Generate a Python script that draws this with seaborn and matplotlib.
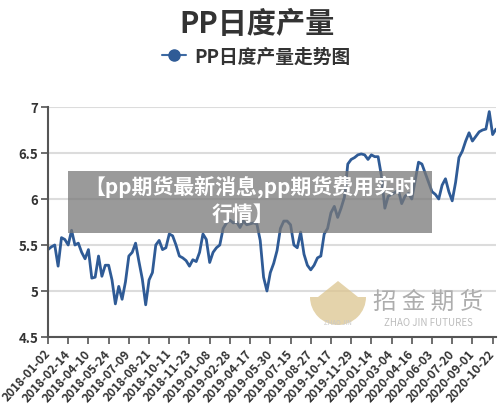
import matplotlib
matplotlib.use("Agg")
import matplotlib.pyplot as plt
import seaborn as sns
import pandas as pd
import numpy as np
from matplotlib.lines import Line2D
from matplotlib.patches import Rectangle, Wedge, Polygon

# ---- data (one point per 5 trading days) ----
pp_output = [
    5.45, 5.48, 5.50, 5.27, 5.58, 5.56, 5.50, 5.66, 5.50, 5.52,
    5.42, 5.35, 5.45, 5.14, 5.15, 5.38, 5.16, 5.28, 5.28, 5.12,
    4.86, 5.05, 4.91, 5.10, 5.38, 5.42, 5.52, 5.32, 5.13, 4.85,
    5.12, 5.20, 5.50, 5.55, 5.45, 5.47, 5.62, 5.60, 5.50, 5.38,
    5.36, 5.33, 5.27, 5.34, 5.32, 5.42, 5.62, 5.56, 5.31, 5.42,
    5.47, 5.50, 5.68, 5.74, 5.77, 5.74, 5.75, 5.69, 5.76, 5.72,
    5.73, 5.74, 5.73, 5.55, 5.15, 5.00, 5.20, 5.30, 5.44, 5.68,
    5.76, 5.76, 5.72, 5.50, 5.47, 5.64, 5.40, 5.28, 5.23, 5.28,
    5.36, 5.38, 5.62, 5.68, 5.85, 5.92, 5.80, 5.90, 6.02, 6.38,
    6.43, 6.45, 6.48, 6.49, 6.48, 6.43, 6.48, 6.46, 6.46, 6.25,
    5.90, 6.03, 6.05, 6.07, 6.10, 5.95, 6.03, 6.06, 6.00, 6.20,
    6.40, 6.38, 6.28, 6.18, 6.08, 6.05, 6.00, 6.15, 6.22, 6.08,
    5.98, 6.18, 6.45, 6.52, 6.63, 6.72, 6.63, 6.68, 6.73, 6.75,
    6.76, 6.95, 6.70, 6.76,
]
tick_labels = [
    "2018-01-02", "2018-02-14", "2018-04-10", "2018-05-24", "2018-07-09",
    "2018-08-21", "2018-10-11", "2018-11-23", "2019-01-08", "2019-02-28",
    "2019-04-17", "2019-05-30", "2019-07-15", "2019-08-27", "2019-10-17",
    "2019-11-29", "2020-01-14", "2020-03-04", "2020-04-16", "2020-06-03",
    "2020-07-20", "2020-09-01", "2020-10-22",
]
y_ticks = [4.5, 5, 5.5, 6, 6.5, 7]
y_tick_labels = ["4.5", "5", "5.5", "6", "6.5", "7"]
title = "PP日度产量"
series_name = "PP日度产量走势图"
banner_lines = ["【pp期货最新消息,pp期货费用实时", "行情】"]

sns.set_theme(style="white")
plt.rcParams["font.family"] = ["Noto Sans CJK SC", "DejaVu Sans"]

W, H = 500, 406
fig = plt.figure(figsize=(W / 100, H / 100), dpi=100)
ax = fig.add_axes([48 / W, 1 - 338 / H, (496 - 48) / W, (338 - 108) / H])

df = pd.DataFrame({"idx": np.arange(len(pp_output)), "val": pp_output})
line_color = "#2f5b96"
sns.lineplot(data=df, x="idx", y="val", ax=ax, color=line_color, linewidth=2.0)

ax.set_xlim(0, len(pp_output) - 1)
ax.set_ylim(4.5, 7)
tick_step = 6
ax.set_xticks(np.arange(len(tick_labels)) * tick_step)
ax.set_xticklabels(tick_labels, rotation=48, ha="right", va="center",
                   rotation_mode="anchor", fontsize=8.6, color="#333333",
                   fontweight="semibold")
ax.set_yticks(y_ticks)
ax.set_yticklabels(y_tick_labels, fontsize=9.5, color="#333333", fontweight="bold")
ax.set_xlabel("")
ax.set_ylabel("")
ax.grid(axis="y", color="#dcdcdc", linewidth=1.5)
ax.grid(axis="x", visible=False)
ax.set_axisbelow(True)
for s in ["top", "right"]:
    ax.spines[s].set_visible(False)
for s in ["left", "bottom"]:
    ax.spines[s].set_color("#555555")
    ax.spines[s].set_linewidth(1.5)
ax.tick_params(axis="y", which="major", length=5, width=1.2, color="#555555",
               direction="out", left=True, pad=2)
ax.tick_params(axis="x", which="major", length=5, width=1.2, color="#555555",
               direction="out", bottom=True, pad=5)

# titles
fig.text(257 / W, 1 - 24 / H, title, ha="center", va="center", fontsize=21,
         fontweight="bold", color="#333333")
handle = Line2D([], [], color="#3d6aa3", marker="o", markersize=8,
                markerfacecolor=line_color, markeredgecolor=line_color, linewidth=1.5)
fig.legend(handles=[handle], labels=[series_name], loc="center",
           bbox_to_anchor=(256 / W, 1 - 57 / H), frameon=False, handlelength=1.3,
           handletextpad=0.4, prop={"size": 13.5, "weight": "bold",
                                    "family": ["Noto Sans CJK SC", "DejaVu Sans"]},
           labelcolor="#333333")

# watermark (logo + text)
wm = fig.add_axes([0, 0, 1, 1], zorder=3)
wm.set_xlim(0, W)
wm.set_ylim(H, 0)
wm.axis("off")
wm.add_patch(Wedge((338, 298), 28, 0, 180, facecolor="#dcc58f", alpha=0.75,
                   edgecolor="none"))
wm.add_patch(Polygon([[318, 298], [338, 282], [358, 298]], closed=True,
                     facecolor="#dcc58f", alpha=0.75, edgecolor="none"))
wm.text(338, 323, "ZHAO JIN", ha="center", va="center", fontsize=4.5, color="#c9c9c9")
wm.text(428, 302, "招 金 期 货", ha="center", va="center", fontsize=17,
        color="#adadad")
wm.text(428, 323, "ZHAO JIN FUTURES", ha="center", va="center", fontsize=7,
        color="#bdbdbd")

# overlay banner
wm.add_patch(Rectangle((68, 172), 364, 62, facecolor="#787878", alpha=0.75,
                       edgecolor="none"))
wm.text(250, 187, banner_lines[0], ha="center", va="center", fontsize=15,
        fontweight="bold", color="white")
wm.text(243, 214, banner_lines[1], ha="center", va="center", fontsize=15,
        fontweight="bold", color="white")

fig.savefig("out.png", dpi=100)
